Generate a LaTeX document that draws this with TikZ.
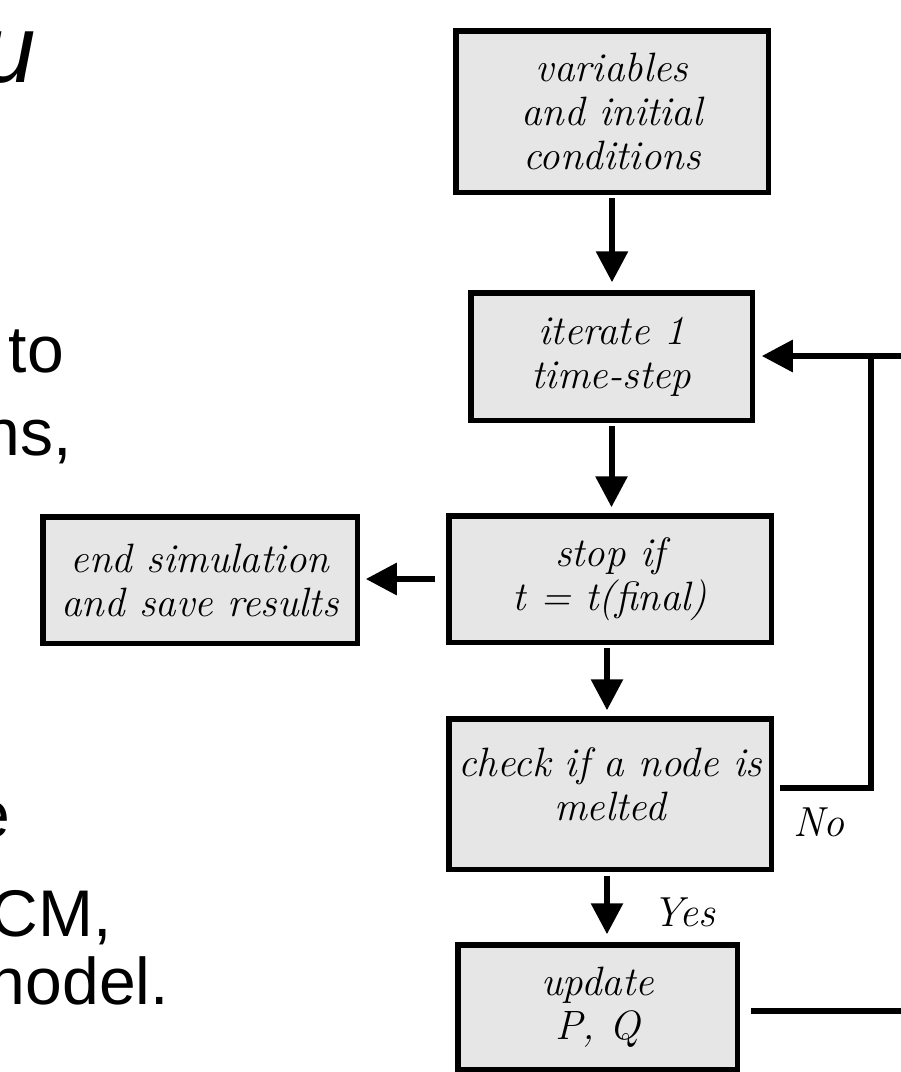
\documentclass[tikz,border=0pt]{standalone}
\usepackage{fontspec}
\newfontfamily\slidefont{Liberation Sans}
\usetikzlibrary{arrows.meta}
\definecolor{boxgray}{HTML}{E6E6E6}
\begin{document}
\begin{tikzpicture}[x=1pt,y=-1pt,
  box/.style={draw=black, line width=5.5pt, fill=boxgray, inner sep=0pt, align=center,
    font=\fontsize{41}{44}\selectfont\itshape},
  conn/.style={line width=6pt},
  arr/.style={conn, -{Triangle[length=31pt,width=31pt]}},
  lbl/.style={inner sep=0pt, font=\fontsize{42}{44}\selectfont\itshape},
  slide/.style={inner sep=0pt, anchor=base east, font=\slidefont\fontsize{66}{66}\selectfont}
]
\clip (0,0) rectangle (901,1072);
\fill[white] (0,0) rectangle (901,1072);

% slide text fragments
\node[slide, font=\slidefont\itshape\fontsize{96}{96}\selectfont] (tu) at (36,82) {u};
\node[slide] (tto) at (64,372) {to};
\node[slide] (tns) at (72,455) {ns,};
\node[slide] (te) at (10,837) {e};
\node[slide] (tcm) at (112,936) {CM,};
\node[slide] (tmod) at (169,1004) {nodel.};

% flowchart boxes
\node[box, minimum width=312.5pt, minimum height=161.5pt] (vars) at (612,111.5)
  {variables\\and initial\\conditions};
\node[box, minimum width=281.5pt, minimum height=127.5pt] (iter) at (611.5,356.5)
  {iterate 1\\time-step};
\node[box, minimum width=322.5pt, minimum height=126.5pt] (stop) at (610,579)
  {stop if\\t = t(final)};
\node[box, minimum width=322.5pt, minimum height=150.5pt] (check) at (610,794)
  {check if a node is\\melted\\[-38pt]\strut};
\node[box, minimum width=279.5pt, minimum height=124.5pt] (update) at (597.5,1007)
  {update\\P, Q};
\node[box, minimum width=314.5pt, minimum height=126.5pt] (endsim) at (200,580)
  {end simulation\\and save results};

% labels
\node[lbl] (lblno) at (819,822) {No};
\node[lbl] (lblyes) at (684,912) {Yes};

% connectors
\coordinate (fbjoin) at (871,356);
\coordinate (fbright) at (910,356);
\coordinate (upright) at (910,1011);

\draw[arr, shorten <=3pt, shorten >=7.75pt] (vars.south) -- (vars.south |- iter.north);
\draw[arr, shorten <=3pt, shorten >=5.75pt] (iter.south) -- (iter.south |- stop.north);
\draw[arr, shorten <=3pt, shorten >=5.75pt] ([xshift=-3pt]stop.south) -- ([xshift=-3pt]stop.south |- check.north);
\draw[arr, shorten <=3.75pt, shorten >=7.75pt] ([xshift=-3pt]check.south) -- ([xshift=-3pt]check.south |- update.north);
\draw[arr, shorten <=10.75pt, shorten >=5.75pt] (stop.west) -- (stop.west -| endsim.east);
\draw[conn] ([xshift=5.75pt,yshift=6pt]check.east) -| (fbjoin);
\draw[arr, shorten >=6.75pt] (fbright) -- (fbright -| iter.east);
\draw[conn, shorten <=10.75pt] (update.east |- upright) -- (upright);
\end{tikzpicture}
\end{document}
